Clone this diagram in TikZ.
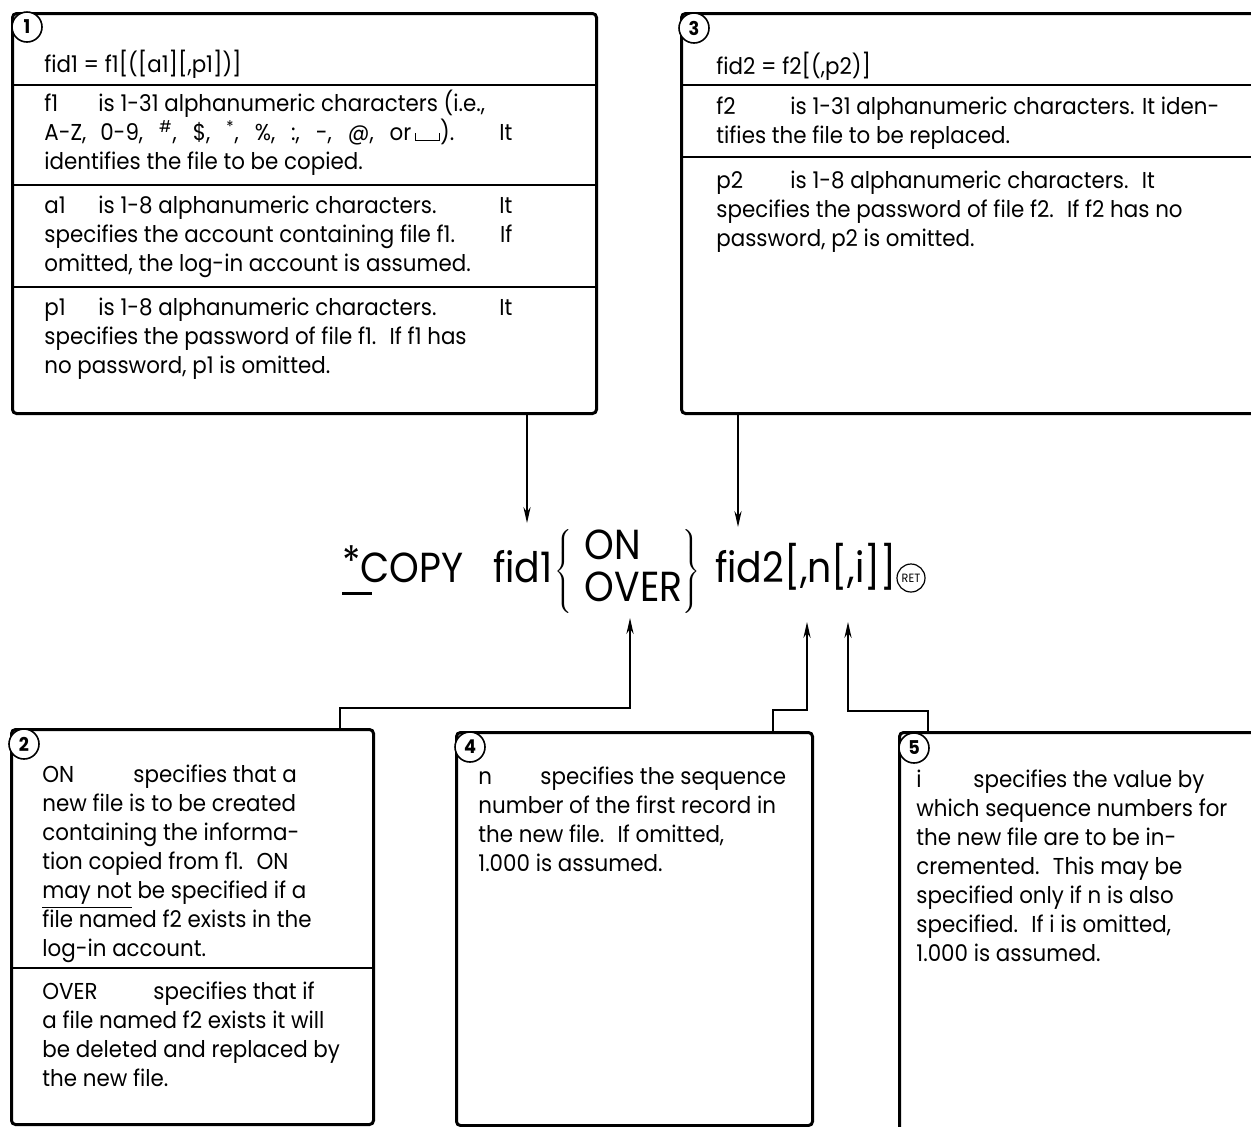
\documentclass[tikz,border=0pt]{standalone}
\usepackage{fontspec}
\setmainfont{Poppins}[FakeStretch=0.93]
\newfontfamily\cmdfont{Poppins}[FakeStretch=0.9]
\usepackage{graphicx}
\usetikzlibrary{arrows.meta}
% visible blank (cup) symbol
\newcommand{\blanksym}{\rule{0.5pt}{0.35em}\rule{1.0em}{0.5pt}\rule{0.5pt}{0.35em}}
% hanging key word followed by a tab
\newcommand{\keyw}[2]{\makebox[#1][l]{#2}}
% fixed first-line height so that the top of a block sits 10pt above its first baseline
\newcommand{\topstrut}{\rule{0pt}{10pt}}
% line ending in a word pushed to the right margin
\newcommand{\jline}[2]{\makebox[234pt][l]{#1\hfill #2}}
% syntax brackets, a little taller than the text
\newcommand{\lbr}{{\large[}}
\newcommand{\rbr}{{\large]}}
\begin{document}
\begin{tikzpicture}[x=0.5pt,y=-0.5pt,
  panel/.style={draw, line width=1.5pt, rounded corners=2pt, anchor=north west, inner sep=0pt},
  rulel/.style={line width=0.7pt},
  link/.style={line width=0.6pt},
  tipd/.style={-{Stealth[length=8pt,width=3.6pt]}},
  badge/.style={circle, draw, line width=0.8pt, minimum size=15pt, inner sep=0pt, fill=white,
                font=\bfseries\fontsize{9.5}{9.5}\selectfont},
  body/.style={anchor=north west, align=left, inner sep=0pt, font=\fontsize{11.5}{14.5}\selectfont},
]
\useasboundingbox (0,0) rectangle (1251,1126);
\clip (0,0) rectangle (1251,1126);

% ---------------- panels ----------------
\node[panel, minimum width=292pt, minimum height=200pt] (p1) at (11,12) {};
\node[panel, minimum width=320pt, minimum height=200pt] (p3) at (680,12) {};
\node[panel, minimum width=181pt, minimum height=197.5pt] (p2) at (10,728) {};
\node[panel, minimum width=178pt, minimum height=196.5pt] (p4) at (455,731) {};
\node[panel, minimum width=200pt, minimum height=220pt] (p5) at (898,731) {};

% dividers
\draw[rulel] ([yshift=-36.5pt]p1.north west) -- ([yshift=-36.5pt]p1.north east);
\draw[rulel] ([yshift=-86.5pt]p1.north west) -- ([yshift=-86.5pt]p1.north east);
\draw[rulel] ([yshift=-137.5pt]p1.north west) -- ([yshift=-137.5pt]p1.north east);
\draw[rulel] ([yshift=-36.5pt]p3.north west) -- ([yshift=-36.5pt]p3.north east);
\draw[rulel] ([yshift=-72.5pt]p3.north west) -- ([yshift=-72.5pt]p3.north east);
\draw[rulel] ([yshift=-120pt]p2.north west) -- ([yshift=-120pt]p2.north east);

% number badges
\node[badge] (n1) at (27,27) {1};
\node[badge] (n3) at (694,28) {3};
\node[badge] (n2) at (24,744) {2};
\node[badge] (n4) at (470,747) {4};
\node[badge] (n5) at (914,748) {5};

% ---------------- panel 1 ----------------
\node[body] (h1) at (44,50) {\topstrut fid1 = f1\lbr(\lbr a1\rbr\lbr,p1\rbr)\rbr};
\node[body] (t1a) at (44,90) {\topstrut\keyw{27pt}{f1}is 1-31 alphanumeric characters (i.e.,\\
\jline{\makebox[205pt][s]{A-Z, 0-9, \textsuperscript{\#}, \$, \textsuperscript{*}, \%, :, -, @, or\,\blanksym).}}{It}\\
identifies the file to be copied.};
\node[body] (t1b) at (44,193) {\topstrut\jline{\keyw{27pt}{a1}is 1-8 alphanumeric characters.}{It}\\
\jline{specifies the account containing file f1.}{If}\\
omitted, the log-in account is assumed.};
\node[body] (t1c) at (44,295) {\topstrut\jline{\keyw{27pt}{p1}is 1-8 alphanumeric characters.}{It}\\
specifies the password of file f1. \ If f1 has\\
no password, p1 is omitted.};

% ---------------- panel 3 ----------------
\node[body] (h3) at (716,52) {\topstrut fid2 = f2\lbr(,p2)\rbr};
\node[body] (t3a) at (716,94) {\topstrut\keyw{37pt}{f2}is 1-31 alphanumeric characters. It iden-\\
tifies the file to be replaced.};
\node[body] (t3b) at (716,168) {\topstrut\keyw{37pt}{p2}is 1-8 alphanumeric characters. \ It\\
specifies the password of file f2. \ If f2 has no\\
password, p2 is omitted.};

% ---------------- panel 2 ----------------
\node[body] (t2a) at (42,762) {\topstrut\keyw{45.5pt}{ON}specifies that a\\
new file is to be created\\
containing the informa-\\
tion copied from f1. \ ON\\
\underline{may not} be specified if a\\
file named f2 exists in the\\
log-in account.};
\node[body] (t2b) at (42,979) {\topstrut\keyw{55.5pt}{OVER}specifies that if\\
a file named f2 exists it will\\
be deleted and replaced by\\
the new file.};

% ---------------- panel 4 ----------------
\node[body] (t4) at (478,764) {\topstrut\keyw{31pt}{n}specifies the sequence\\
number of the first record in\\
the new file. \ If omitted,\\
1.000 is assumed.};

% ---------------- panel 5 ----------------
\node[body] (t5) at (916,767) {\topstrut\keyw{28.5pt}{i}specifies the value by\\
which sequence numbers for\\
the new file are to be in-\\
cremented. \ This may be\\
specified only if n is also\\
specified. \ If i is omitted,\\
1.000 is assumed.};

% ---------------- command line ----------------
\node[anchor=base west, inner sep=0pt, font=\cmdfont\fontsize{21}{25}\selectfont] (cmd) at (342,582)
  {\rlap{\rule[-0.32em]{0.7em}{1.6pt}}\raisebox{0.12em}{*}COPY\hspace{0.7em}fid1\hspace{0.05em}%
   $\left\{\hspace{0.3em}\renewcommand\arraystretch{0.82}\begin{tabular}{@{}l@{}}ON\\OVER\end{tabular}\right\}$%
   \hspace{0.35em}fid2[,n[,i]]};
\node[circle, draw, line width=0.6pt, minimum size=14pt, inner sep=0pt,
      font=\fontsize{6}{6}\selectfont] (ret) at (911,578) {RET};

% ---------------- connectors ----------------
\coordinate (a1tip) at (527,523);
\coordinate (a3tip) at (738,527);
\coordinate (a2tip) at (630,618);
\coordinate (a4tip) at (807,622);
\coordinate (a5tip) at (848,622);
\coordinate (k2) at (340,708);
\coordinate (k4) at (773,710);
\coordinate (k5) at (928,711);

\draw[link, tipd] (p1.south -| a1tip) -- (a1tip);
\draw[link, tipd] (p3.south -| a3tip) -- (a3tip);
\draw[link, tipd] (p2.north -| k2) -- (k2) -| (a2tip);
\draw[link, tipd] (p4.north -| k4) -- (k4) -| (a4tip);
\draw[link, tipd] (p5.north -| k5) -- (k5) -| (a5tip);
\end{tikzpicture}
\end{document}
